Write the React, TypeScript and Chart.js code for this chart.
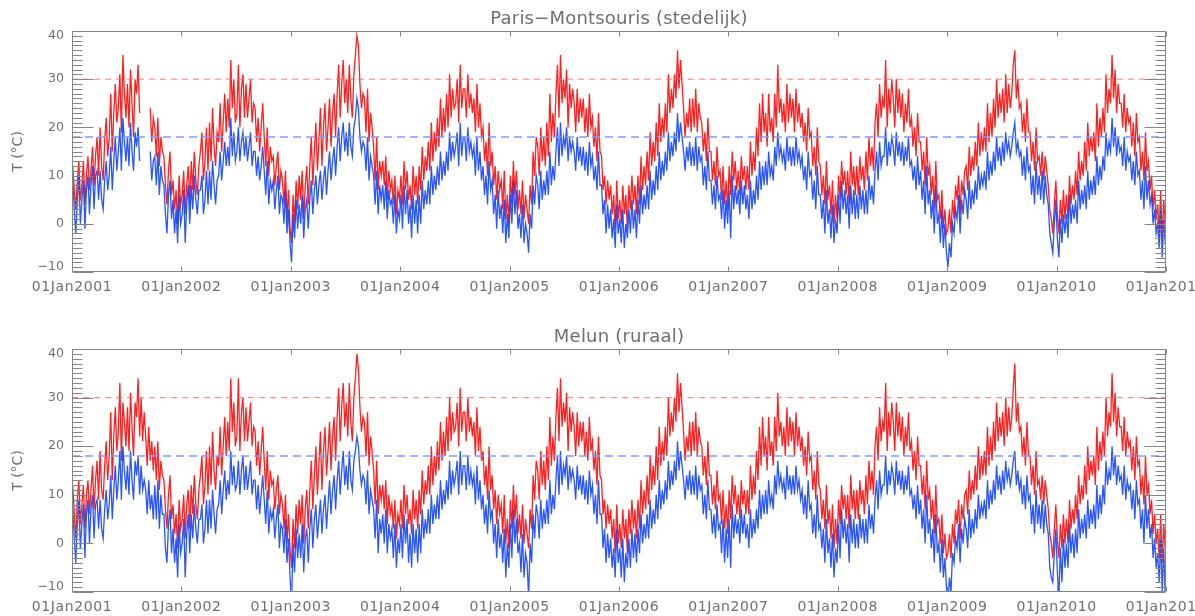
import { useEffect, useRef } from "react";
import { Chart, registerables } from "chart.js";

Chart.register(...registerables);

// Daily extremes sampled about every five days: 6 samples per month, 72 per year (°C).
// null = missing observations.

// ---- Paris-Montsouris, daily maximum ----
const parisMax2001 = [12, 7, 3, 9, 13, 5, 8, 13, 4, 10, 14, 7, 11, 16, 8, 14, 18, 10, 20, 12, 9, 17, 22, 14, 18, 27, 15, 23, 29, 21, 24, 31, 19, 35, 27, 22, 29, 20, 32, 25, 18, 30, 27, 33, 23, null, null, null, null, null, null, 24, 17, 22, 20, 14, 22, 12, 18, 15, 14, 8, 4, 11, 15, 6, 9, 3, 7, 0, 10, 4];
const parisMax2002 = [6, 11, 2, 8, 12, 4, 13, 7, 15, 9, 6, 12, 15, 19, 9, 13, 20, 11, 21, 13, 24, 16, 12, 19, 17, 25, 15, 21, 27, 19, 26, 20, 34, 24, 30, 21, 23, 33, 20, 28, 31, 22, 29, 22, 26, 30, 21, 25, 24, 17, 22, 15, 20, 25, 18, 12, 20, 10, 16, 13, 14, 8, 12, 15, 7, 11, 9, 4, 11, 1, 7, -1];
const parisMax2003 = [-4, 6, 0, 9, 3, 10, 5, 11, 1, 8, 12, 4, 12, 18, 8, 15, 21, 11, 17, 24, 12, 20, 25, 15, 20, 26, 16, 23, 27, 18, 27, 33, 22, 29, 34, 25, 30, 23, 33, 26, 22, 31, 35, 39, 37, 29, 24, 27, 26, 19, 28, 17, 23, 20, 16, 9, 18, 7, 13, 10, 13, 8, 14, 5, 11, 7, 9, 4, 10, 2, 7, 5];
const parisMax2004 = [10, 4, 13, 7, 11, 5, 8, 3, 12, 6, 10, 4, 12, 7, 16, 9, 14, 11, 17, 11, 21, 13, 19, 15, 22, 16, 26, 18, 24, 19, 27, 20, 31, 22, 28, 24, 25, 30, 21, 33, 24, 28, 28, 22, 31, 24, 27, 23, 26, 19, 29, 20, 25, 18, 20, 13, 17, 10, 21, 12, 15, 8, 12, 5, 11, 7, 9, 3, 11, 1, 6, 0];
const parisMax2005 = [10, 4, 13, 6, 11, 3, 7, 2, 9, 1, 6, 3, 0, 8, 4, 15, 10, 18, 16, 10, 20, 13, 18, 12, 21, 14, 27, 17, 23, 18, 27, 33, 22, 35, 25, 30, 26, 32, 20, 29, 24, 28, 25, 19, 28, 21, 26, 22, 26, 19, 24, 18, 27, 20, 22, 16, 20, 13, 23, 15, 14, 7, 10, 4, 9, 5, 8, 2, 6, -1, 9, 1];
const parisMax2006 = [5, 0, 8, 2, 6, -1, 8, 3, 10, 4, 8, 2, 10, 4, 14, 7, 12, 8, 15, 9, 19, 12, 17, 13, 21, 14, 25, 17, 22, 18, 25, 19, 31, 23, 28, 24, 31, 26, 36, 28, 34, 29, 24, 18, 23, 20, 26, 19, 26, 20, 28, 19, 25, 22, 21, 15, 19, 13, 22, 15, 15, 9, 13, 8, 16, 10, 11, 5, 12, 4, 9, 3];
const parisMax2007 = [12, 6, 15, 9, 13, 7, 11, 6, 14, 9, 12, 7, 12, 7, 17, 10, 15, 11, 20, 14, 25, 17, 27, 19, 23, 16, 27, 19, 22, 17, 27, 20, 33, 23, 26, 21, 25, 19, 29, 21, 27, 22, 26, 19, 28, 21, 25, 20, 23, 17, 21, 15, 24, 18, 19, 12, 16, 10, 20, 13, 12, 6, 10, 4, 13, 5, 8, 2, 9, 0, 6, 1];
const parisMax2008 = [10, 5, 13, 8, 11, 6, 11, 4, 15, 8, 12, 6, 12, 6, 14, 9, 12, 7, 15, 9, 18, 12, 16, 11, 21, 25, 18, 29, 22, 26, 24, 34, 20, 28, 23, 30, 26, 20, 30, 23, 28, 22, 27, 19, 25, 21, 28, 20, 22, 16, 20, 14, 23, 17, 17, 11, 15, 8, 18, 10, 12, 6, 10, 3, 13, 5, 6, 1, 7, -1, 3, -2];
const parisMax2009 = [-1, 3, -2, 5, 1, 8, 5, 10, 2, 9, 6, 11, 12, 7, 16, 10, 14, 11, 17, 12, 21, 14, 19, 15, 20, 15, 25, 17, 23, 18, 26, 20, 30, 22, 27, 23, 28, 21, 31, 23, 29, 24, 27, 33, 36, 26, 30, 24, 25, 19, 23, 17, 26, 19, 19, 13, 17, 11, 20, 13, 14, 10, 15, 9, 14, 11, 8, 3, 1, -2, 4, 9];
const parisMax2010 = [2, -2, 5, 0, 7, 1, 6, 1, 10, 4, 8, 5, 11, 6, 15, 9, 13, 10, 17, 11, 21, 14, 18, 15, 19, 13, 25, 16, 22, 18, 24, 19, 31, 23, 28, 25, 35, 26, 32, 23, 29, 25, 25, 20, 27, 19, 24, 21, 22, 16, 21, 14, 23, 17, 18, 11, 15, 9, 19, 11, 13, 7, 10, 3, 7, 1, 4, -2, 7, -3, 5, 0];

// ---- Paris-Montsouris, daily minimum ----
const parisMin2001 = [9, 3, -2, 5, 10, 0, 5, 9, -1, 7, 10, 2, 8, 12, 3, 10, 11, 5, 11, 5, 3, 9, 13, 7, 10, 16, 7, 13, 18, 11, 15, 20, 11, 22, 17, 13, 18, 12, 21, 15, 11, 19, 16, 20, 13, null, null, null, null, null, null, 15, 9, 13, 14, 8, 15, 6, 12, 9, 8, 2, -2, 6, 9, 1, 5, -2, 3, -4, 6, 0];
const parisMin2002 = [2, 7, -4, 4, 8, 0, 8, 3, 10, 5, 2, 7, 7, 10, 2, 5, 11, 4, 11, 5, 13, 8, 4, 9, 10, 15, 9, 13, 17, 12, 16, 12, 22, 14, 19, 13, 15, 20, 13, 17, 19, 14, 18, 13, 16, 19, 12, 15, 15, 10, 14, 9, 12, 16, 11, 6, 13, 4, 9, 7, 9, 3, 7, 10, 2, 6, 5, 0, 7, -2, 3, -4];
const parisMin2003 = [-8, 2, -3, 5, -1, 4, 0, 6, -3, 3, 5, -1, 5, 9, 2, 7, 10, 4, 8, 11, 5, 9, 12, 6, 11, 15, 9, 13, 16, 10, 16, 20, 13, 18, 21, 15, 19, 14, 21, 16, 14, 20, 22, 26, 24, 18, 15, 17, 16, 11, 18, 9, 14, 12, 10, 4, 11, 2, 8, 5, 8, 3, 9, 1, 7, 4, 5, 0, 6, -2, 3, 1];
const parisMin2004 = [6, -1, 8, 2, 7, 0, 4, -3, 6, 0, 5, -2, 6, 0, 9, 3, 7, 4, 9, 4, 12, 6, 10, 7, 12, 8, 15, 9, 13, 10, 15, 11, 19, 13, 17, 14, 16, 19, 12, 21, 14, 18, 18, 13, 20, 15, 17, 14, 16, 10, 18, 11, 15, 9, 12, 6, 10, 4, 13, 7, 9, 2, 6, -1, 7, 1, 4, -2, 5, -4, 2, -3];
const parisMin2005 = [6, 0, 9, 2, 7, -1, 2, -3, 4, -4, 0, -2, -6, 2, -1, 8, 4, 10, 8, 3, 11, 5, 9, 6, 11, 6, 15, 8, 12, 9, 15, 20, 12, 21, 14, 18, 16, 20, 13, 18, 15, 17, 15, 11, 18, 13, 16, 12, 16, 11, 15, 10, 17, 12, 14, 9, 12, 7, 15, 8, 8, 2, 5, -2, 4, -1, 3, -3, 1, -5, 4, -2];
const parisMin2006 = [1, -4, 3, -5, 0, -3, 3, -2, 5, -1, 3, -3, 5, 0, 8, 2, 6, 3, 8, 3, 11, 5, 9, 6, 12, 7, 15, 9, 13, 10, 15, 11, 19, 13, 17, 14, 19, 15, 23, 17, 21, 18, 15, 11, 16, 13, 17, 12, 16, 12, 18, 11, 16, 13, 14, 8, 12, 7, 15, 9, 9, 4, 8, 3, 10, 5, 6, 1, 7, -1, 5, 0];
const parisMin2007 = [7, -3, 10, 3, 8, 4, 7, 2, 9, 4, 8, 3, 6, 1, 9, 3, 7, 4, 10, 5, 13, 7, 12, 8, 13, 8, 15, 10, 12, 9, 16, 12, 19, 14, 16, 13, 15, 11, 18, 13, 16, 12, 16, 12, 18, 13, 15, 12, 14, 9, 12, 7, 15, 10, 11, 5, 9, 3, 12, 6, 6, 1, 5, -2, 7, 0, 3, -3, 4, -4, 1, -2];
const parisMin2008 = [6, 0, 9, 3, 7, 2, 6, -1, 8, 2, 7, 1, 6, 1, 8, 3, 7, 2, 7, 2, 10, 5, 8, 4, 11, 15, 9, 17, 12, 14, 14, 20, 12, 17, 14, 18, 16, 12, 19, 14, 17, 13, 17, 12, 16, 13, 18, 12, 13, 9, 12, 7, 14, 8, 11, 5, 9, 2, 12, 4, 7, 1, 5, -2, 8, 0, 2, -4, 3, -5, 0, -6];
const parisMin2009 = [-9, -4, -7, 0, -2, 3, 1, 6, -2, 5, 2, 7, 5, 1, 9, 3, 7, 4, 9, 5, 12, 7, 10, 8, 11, 7, 15, 9, 13, 10, 15, 11, 18, 13, 16, 12, 17, 13, 19, 15, 17, 14, 16, 19, 21, 15, 17, 14, 15, 10, 14, 9, 16, 11, 12, 6, 10, 4, 13, 6, 10, 5, 11, 4, 10, 6, 4, -2, -4, -6, 0, 5];
const parisMin2010 = [-3, -7, 1, -4, 2, -2, 2, -3, 6, 0, 4, 1, 5, 0, 9, 3, 7, 4, 8, 3, 11, 5, 9, 6, 10, 6, 14, 8, 12, 9, 14, 11, 19, 14, 17, 15, 22, 16, 20, 14, 18, 15, 16, 12, 18, 11, 15, 13, 14, 9, 13, 8, 15, 10, 11, 5, 9, 3, 12, 5, 9, 4, 6, 0, 3, -2, 0, -5, 3, -7, 1, -4];

// ---- Melun, daily maximum ----
const melunMax2001 = [12, 6, 1, 9, 13, 4, 8, 12, 3, 10, 13, 6, 11, 16, 7, 13, 17, 9, 19, 11, 9, 16, 21, 13, 18, 27, 13, 22, 28, 19, 23, 33, 17, 29, 25, 20, 28, 19, 31, 24, 18, 29, 26, 34, 22, 30, 21, 27, 22, 16, 24, 17, 21, 15, 20, 13, 21, 11, 17, 14, 13, 7, 3, 10, 14, 5, 8, 2, 6, -1, 9, 3];
const melunMax2002 = [5, 10, 1, 8, 11, 3, 12, 6, 14, 8, 5, 11, 14, 18, 8, 12, 19, 10, 20, 12, 23, 15, 11, 18, 16, 24, 14, 20, 26, 18, 25, 19, 34, 23, 29, 20, 22, 34, 19, 27, 30, 21, 28, 21, 25, 29, 20, 24, 23, 16, 21, 14, 19, 24, 17, 11, 19, 9, 15, 12, 13, 7, 11, 14, 6, 10, 8, 3, 10, 0, 6, -1];
const melunMax2003 = [-5, 5, -1, 8, 2, 9, 4, 10, 0, 7, 11, 3, 11, 17, 7, 14, 20, 10, 16, 23, 11, 19, 24, 14, 19, 25, 15, 22, 26, 17, 26, 32, 21, 28, 33, 24, 29, 22, 33, 25, 21, 30, 34, 39, 36, 28, 23, 26, 25, 18, 27, 16, 22, 19, 15, 8, 17, 6, 12, 9, 12, 7, 13, 4, 10, 6, 8, 3, 9, 1, 6, 4];
const melunMax2004 = [9, 3, 12, 6, 10, 4, 7, 2, 11, 5, 9, 3, 11, 6, 15, 8, 13, 10, 16, 10, 20, 12, 18, 14, 21, 15, 25, 17, 23, 18, 26, 19, 30, 21, 27, 23, 24, 29, 20, 32, 23, 27, 27, 21, 30, 23, 26, 22, 25, 18, 28, 19, 24, 17, 19, 12, 16, 9, 20, 11, 14, 7, 11, 4, 10, 6, 8, 2, 10, 0, 5, -1];
const melunMax2005 = [9, 3, 12, 5, 10, 2, 6, 1, 8, 0, 5, 2, -1, 7, 3, 14, 9, 17, 15, 9, 19, 12, 17, 11, 20, 13, 26, 16, 22, 17, 26, 32, 21, 34, 24, 29, 25, 31, 19, 28, 23, 27, 24, 18, 27, 20, 25, 21, 25, 18, 23, 17, 26, 19, 21, 15, 19, 12, 22, 14, 13, 6, 9, 3, 8, 4, 7, 1, 5, -2, 8, 0];
const melunMax2006 = [4, -1, 7, 1, 5, -2, 7, 2, 9, 3, 7, 1, 9, 3, 13, 6, 11, 7, 14, 8, 18, 11, 16, 12, 20, 13, 24, 16, 21, 17, 24, 18, 30, 22, 27, 23, 30, 25, 35, 27, 33, 28, 23, 17, 22, 19, 25, 18, 25, 19, 27, 18, 24, 21, 20, 14, 18, 12, 21, 14, 14, 8, 12, 7, 15, 9, 10, 4, 11, 3, 8, 2];
const melunMax2007 = [11, 5, 14, 8, 12, 6, 10, 5, 13, 8, 11, 6, 11, 6, 16, 9, 14, 10, 19, 13, 24, 16, 26, 18, 22, 15, 26, 18, 21, 16, 26, 19, 31, 22, 25, 20, 24, 18, 28, 20, 26, 21, 25, 18, 27, 20, 24, 19, 22, 16, 20, 14, 23, 17, 18, 11, 15, 9, 19, 12, 11, 5, 9, 3, 12, 4, 7, 1, 8, -1, 5, 0];
const melunMax2008 = [9, 4, 12, 7, 10, 5, 10, 3, 14, 7, 11, 5, 11, 5, 13, 8, 11, 6, 14, 8, 17, 11, 15, 10, 20, 24, 17, 28, 21, 25, 23, 33, 19, 27, 22, 29, 25, 19, 29, 22, 27, 21, 26, 18, 24, 20, 27, 19, 21, 15, 19, 13, 22, 16, 16, 10, 14, 7, 17, 9, 11, 5, 9, 2, 12, 4, 5, 0, 6, -2, 2, -3];
const melunMax2009 = [-2, 2, -3, 4, 0, 7, 4, 9, 1, 8, 5, 10, 11, 6, 15, 9, 13, 10, 16, 11, 20, 13, 18, 14, 19, 14, 24, 16, 22, 17, 25, 19, 29, 21, 26, 22, 27, 20, 30, 22, 28, 23, 26, 32, 37, 25, 29, 23, 24, 18, 22, 16, 25, 18, 18, 12, 16, 10, 19, 12, 13, 9, 14, 8, 13, 10, 7, 2, 0, -3, 3, 8];
const melunMax2010 = [1, -3, 4, -1, 6, 0, 5, 0, 9, 3, 7, 4, 10, 5, 14, 8, 12, 9, 16, 10, 20, 13, 17, 14, 18, 12, 24, 15, 21, 17, 23, 18, 30, 22, 27, 24, 35, 25, 31, 22, 28, 24, 24, 19, 26, 18, 23, 20, 21, 15, 20, 13, 22, 16, 17, 10, 14, 8, 18, 10, 12, 6, 9, 2, 6, 0, 3, -3, 6, -4, 4, -1];

// ---- Melun, daily minimum ----
const melunMin2001 = [7, 1, -4, 4, 9, -1, 4, 8, -3, 6, 9, 0, 7, 10, 1, 8, 9, 3, 9, 3, 1, 7, 11, 5, 8, 14, 5, 11, 16, 9, 13, 19, 9, 20, 15, 11, 16, 10, 19, 13, 9, 17, 14, 18, 10, 16, 11, 13, 11, 6, 13, 7, 10, 5, 12, 5, 13, 3, 10, 6, 6, -1, -4, 4, 7, -2, 3, -4, 1, -7, 4, -2];
const melunMin2002 = [0, 5, -7, 2, 6, -2, 6, 1, 8, 3, 0, 5, 5, 8, 0, 3, 9, 2, 9, 3, 11, 6, 2, 7, 8, 13, 6, 11, 15, 9, 13, 10, 19, 12, 16, 11, 12, 17, 10, 15, 18, 11, 16, 11, 14, 17, 10, 13, 13, 7, 12, 6, 10, 14, 9, 4, 11, 2, 7, 5, 7, 1, 5, 8, -1, 4, 3, -2, 5, -4, 1, -7];
const melunMin2003 = [-12, 0, -6, 3, -3, 2, -3, 4, -6, 1, 3, -4, 3, 7, -1, 5, 8, 1, 5, 9, 2, 7, 10, 3, 8, 13, 6, 11, 14, 7, 13, 17, 10, 15, 19, 12, 16, 11, 19, 13, 11, 17, 19, 22, 20, 15, 12, 14, 13, 8, 15, 6, 11, 9, 7, 1, 9, -2, 5, 2, 6, 0, 7, -2, 4, 1, 3, -3, 4, -5, 1, -2];
const melunMin2004 = [4, -3, 6, 0, 5, -4, 2, -5, 4, -2, 3, -4, 4, -2, 7, 1, 5, 2, 7, 2, 10, 4, 8, 5, 10, 5, 13, 7, 11, 8, 13, 9, 17, 10, 15, 12, 14, 17, 10, 19, 12, 16, 16, 11, 18, 12, 15, 12, 14, 8, 16, 9, 13, 7, 10, 4, 8, 2, 11, 5, 7, 0, 4, -3, 5, -1, 2, -4, 3, -7, 0, -5];
const melunMin2005 = [4, -3, 7, 0, 5, -2, 0, -6, 2, -7, -2, -4, -11, 0, -4, 6, 1, 8, 6, 1, 9, 3, 7, 4, 9, 4, 13, 6, 10, 7, 13, 18, 10, 19, 12, 16, 14, 18, 11, 16, 13, 15, 13, 9, 16, 11, 14, 10, 14, 9, 13, 8, 15, 10, 12, 6, 10, 4, 13, 6, 6, -1, 3, -4, 2, -3, 1, -5, -1, -7, 3, -4];
const melunMin2006 = [-1, -7, 1, -8, -2, -5, 1, -5, 3, -3, 2, -4, 3, -2, 6, 0, 4, 1, 6, 1, 9, 3, 7, 4, 10, 5, 13, 7, 11, 8, 13, 9, 17, 11, 15, 12, 17, 13, 21, 15, 19, 16, 13, 9, 14, 11, 15, 10, 14, 10, 16, 9, 14, 11, 12, 6, 10, 5, 13, 7, 7, 2, 6, 1, 8, 3, 4, -2, 5, -4, 3, -3];
const melunMin2007 = [5, -5, 8, 1, 6, 2, 5, 0, 7, 2, 6, 1, 4, -1, 7, 1, 5, 2, 7, 3, 11, 5, 10, 6, 11, 6, 13, 8, 10, 7, 14, 10, 17, 12, 14, 11, 13, 9, 16, 11, 14, 10, 14, 10, 16, 11, 13, 9, 11, 6, 10, 5, 13, 7, 8, 2, 6, 1, 10, 3, 4, -1, 3, -4, 5, -2, 1, -5, 2, -7, -1, -4];
const melunMin2008 = [4, -3, 7, 1, 5, 0, 4, -4, 6, 0, 5, -1, 4, -1, 6, 1, 5, 0, 5, 0, 8, 3, 6, 2, 9, 13, 7, 15, 10, 12, 12, 18, 10, 15, 12, 16, 14, 10, 17, 12, 15, 11, 15, 10, 14, 11, 16, 10, 11, 7, 10, 5, 12, 6, 9, 3, 7, 0, 10, 2, 5, -1, 3, -4, 6, -2, 0, -6, 1, -7, -3, -9];
const melunMin2009 = [-12, -7, -10, -2, -4, 1, -1, 4, -4, 3, 0, 5, 3, -1, 7, 1, 5, 2, 7, 3, 10, 5, 8, 6, 9, 5, 13, 7, 11, 8, 13, 9, 16, 11, 14, 10, 15, 11, 17, 13, 15, 12, 14, 17, 19, 12, 15, 11, 13, 8, 12, 7, 14, 9, 10, 4, 8, 2, 11, 4, 8, 3, 9, 2, 8, 4, 2, -5, -7, -8, -2, 3];
const melunMin2010 = [-6, -11, -1, -8, 1, -5, 0, -5, 4, -2, 2, -3, 3, -2, 7, 1, 5, 2, 6, 1, 9, 3, 7, 4, 8, 3, 12, 5, 10, 6, 12, 8, 17, 12, 15, 13, 20, 14, 18, 12, 16, 13, 14, 10, 16, 9, 13, 11, 12, 7, 11, 5, 13, 8, 9, 3, 7, 0, 10, 3, 7, 1, 4, -3, 1, -5, -2, -8, 1, -10, -1, -11];

const YEARS = [2001, 2002, 2003, 2004, 2005, 2006, 2007, 2008, 2009, 2010];
const X_TICK_YEARS = [2001, 2002, 2003, 2004, 2005, 2006, 2007, 2008, 2009, 2010, 2011];
const Y_TICK_VALUES = [-10, 0, 10, 20, 30, 40];
const HOT_DAY_LEVEL = 30;
const WARM_NIGHT_LEVEL = 18;

const parisMax = [parisMax2001, parisMax2002, parisMax2003, parisMax2004, parisMax2005, parisMax2006, parisMax2007, parisMax2008, parisMax2009, parisMax2010];
const parisMin = [parisMin2001, parisMin2002, parisMin2003, parisMin2004, parisMin2005, parisMin2006, parisMin2007, parisMin2008, parisMin2009, parisMin2010];
const melunMax = [melunMax2001, melunMax2002, melunMax2003, melunMax2004, melunMax2005, melunMax2006, melunMax2007, melunMax2008, melunMax2009, melunMax2010];
const melunMin = [melunMin2001, melunMin2002, melunMin2003, melunMin2004, melunMin2005, melunMin2006, melunMin2007, melunMin2008, melunMin2009, melunMin2010];

const Y_MIN = -10;
const Y_MAX = 40;
const AXIS_COLOR = "#858585";
const TEXT_COLOR = "#6f6f6f";
const FONT = "'DejaVu Sans', 'Liberation Sans', sans-serif";

// x is measured in years since 01 Jan of the first year
function toPoints(years: (number | null)[][]) {
  const pts: { x: number; y: number | null }[] = [];
  years.forEach((vals, yi) => {
    const n = vals.length;
    vals.forEach((v, i) => pts.push({ x: yi + (i + 0.5) / n, y: v }));
  });
  return pts;
}

function levelLine(level: number) {
  return [
    { x: 0, y: level },
    { x: YEARS.length, y: level },
  ];
}

const axesPlugin = {
  id: "idlAxes",
  afterDatasetsDraw(chart: any, _args: any, opts: any) {
    const { ctx, chartArea: a, scales } = chart;
    const xs = scales.x;
    const ys = scales.y;
    const L = Math.round(a.left) + 0.5;
    const R = Math.round(a.right) - 0.5;
    const T = Math.round(a.top) + 0.5;
    const B = Math.round(a.bottom) - 0.5;
    ctx.save();
    ctx.strokeStyle = AXIS_COLOR;
    ctx.lineWidth = 1;
    ctx.beginPath();
    ctx.rect(L, T, R - L, B - T);
    // y ticks: minor every degree, major every ten
    for (let v = Y_MIN; v <= Y_MAX; v++) {
      const y = Math.round(ys.getPixelForValue(v)) + 0.5;
      const len = v % 10 === 0 ? 21 : 10;
      ctx.moveTo(L, y);
      ctx.lineTo(L + len, y);
      ctx.moveTo(R, y);
      ctx.lineTo(R - len, y);
    }
    // x ticks at each new year
    X_TICK_YEARS.forEach((yr) => {
      const x = Math.round(xs.getPixelForValue(yr - YEARS[0])) + 0.5;
      ctx.moveTo(x, B);
      ctx.lineTo(x, B - 5);
      ctx.moveTo(x, T);
      ctx.lineTo(x, T + 5);
    });
    ctx.stroke();

    ctx.fillStyle = TEXT_COLOR;
    // y labels
    ctx.font = `12.5px ${FONT}`;
    ctx.textAlign = "right";
    ctx.textBaseline = "middle";
    Y_TICK_VALUES.forEach((v) => {
      let y = ys.getPixelForValue(v);
      y = Math.min(Math.max(y, a.top + 4.5), a.bottom - 5.5);
      const txt = v < 0 ? "\u2212" + Math.abs(v) : String(v);
      ctx.fillText(txt, a.left - 8, y);
    });
    // x labels
    ctx.font = `14px ${FONT}`;
    (ctx as any).letterSpacing = "0.6px";
    ctx.textAlign = "center";
    X_TICK_YEARS.forEach((yr) => {
      const x = xs.getPixelForValue(yr - YEARS[0]);
      ctx.fillText("01Jan" + yr, x, a.bottom + 15.5);
    });
    (ctx as any).letterSpacing = "0px";
    // panel title
    ctx.font = `18px ${FONT}`;
    ctx.textBaseline = "alphabetic";
    (ctx as any).letterSpacing = "0.2px";
    ctx.fillText(opts.title, (a.left + a.right) / 2, a.top - 7);
    (ctx as any).letterSpacing = "0px";
    // y axis title
    ctx.save();
    ctx.translate(18, (a.top + a.bottom) / 2);
    ctx.rotate(-Math.PI / 2);
    ctx.font = `14px ${FONT}`;
    ctx.textBaseline = "middle";
    ctx.fillText("T (\u00B0C)", 0, 0);
    ctx.restore();
    ctx.restore();
  },
};

type PanelProps = {
  title: string;
  maxYears: (number | null)[][];
  minYears: (number | null)[][];
  padTop: number;
  padBottom: number;
};

function Panel({ title, maxYears, minYears, padTop, padBottom }: PanelProps) {
  const ref = useRef<HTMLCanvasElement>(null);
  useEffect(() => {
    const chart = new Chart(ref.current as HTMLCanvasElement, {
      type: "line",
      data: {
        datasets: [
          {
            label: "warm night",
            data: levelLine(WARM_NIGHT_LEVEL),
            borderColor: "rgba(125,155,255,0.75)",
            borderWidth: 2,
            borderDash: [8, 5],
            pointRadius: 0,
          },
          {
            label: "hot day",
            data: levelLine(HOT_DAY_LEVEL),
            borderColor: "rgba(255,100,100,0.85)",
            borderWidth: 1,
            borderDash: [6, 5],
            pointRadius: 0,
          },
          {
            label: "Tmin",
            data: toPoints(minYears),
            borderColor: "rgba(10,60,255,0.88)",
            borderWidth: 1.3,
            pointRadius: 0,
            spanGaps: false,
          },
          {
            label: "Tmax",
            data: toPoints(maxYears),
            borderColor: "rgba(255,0,0,0.88)",
            borderWidth: 1.3,
            pointRadius: 0,
            spanGaps: false,
          },
        ],
      },
      options: {
        animation: false,
        responsive: false,
        devicePixelRatio: 1,
        events: [],
        layout: { padding: { left: 72, right: 29, top: padTop, bottom: padBottom } },
        scales: {
          x: { type: "linear", min: 0, max: YEARS.length, display: false },
          y: { type: "linear", min: Y_MIN, max: Y_MAX, display: false },
        },
        plugins: {
          legend: { display: false },
          tooltip: { enabled: false },
          title: { display: false },
          idlAxes: { title },
        } as any,
      },
      plugins: [axesPlugin],
    });
    return () => chart.destroy();
  }, [title, maxYears, minYears, padTop, padBottom]);
  return <canvas ref={ref} width={1195} height={308} style={{ display: "block", width: 1195, height: 308 }} />;
}

export default function App() {
  return (
    <div style={{ position: "fixed", left: 0, top: 0, width: 1195, height: 616, background: "#fff" }}>
      <Panel title={"Paris\u2212Montsouris (stedelijk)"} maxYears={parisMax} minYears={parisMin} padTop={31} padBottom={36} />
      <Panel title={"Melun (ruraal)"} maxYears={melunMax} minYears={melunMin} padTop={41} padBottom={24} />
    </div>
  );
}
